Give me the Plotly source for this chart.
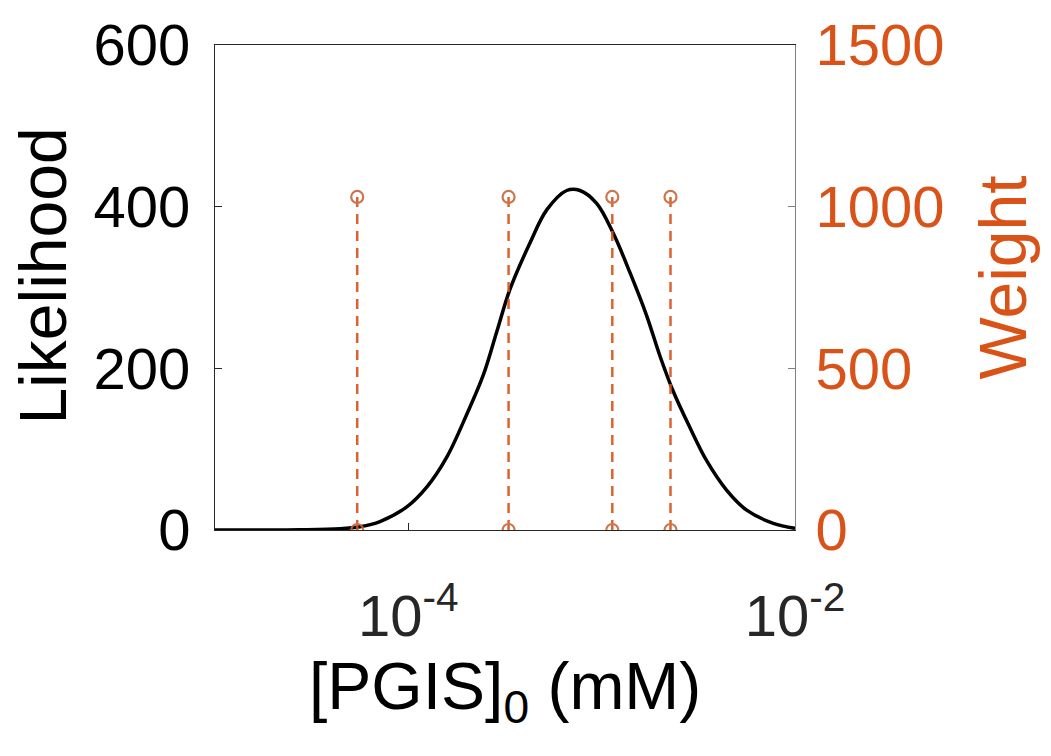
import plotly.graph_objects as go

# Likelihood curve for [PGIS]0 (mM), sampled along the log axis
conc = [1.00e-5, 2.75e-5, 4.44e-5, 5.62e-5, 7.13e-5, 9.82e-5, 1.245e-4, 1.578e-4,
        2.004e-4, 2.443e-4, 2.864e-4, 3.357e-4, 4.256e-4, 5.200e-4, 6.592e-4,
        7.727e-4, 9.419e-4, 1.148e-3, 1.403e-3, 1.710e-3, 2.004e-3, 2.350e-3,
        2.864e-3, 3.491e-3, 4.436e-3, 5.623e-3, 7.727e-3, 1.00e-2]
likelihood = [0.0, 0.3, 1.5, 4.0, 10.4, 28.6, 53.0, 89.8,
              142.9, 191.8, 244.9, 297.9, 355.0, 396.0, 420.0,
              420.0, 404.0, 367.0, 318.0, 265.0, 215.0, 171.0,
              126.5, 85.7, 49.0, 24.5, 8.2, 2.0]

# Sampled parameter values and their weights
sample_conc = [5.44e-5, 3.30e-4, 1.135e-3, 2.27e-3]
sample_weight = [1030, 1030, 1030, 1030]

# Axis ticks
x_tickvals = [1e-4, 1e-2]
x_ticktext = ["10<sup>-4</sup>", "10<sup>-2</sup>"]
y_tickvals = [0, 200, 400, 600]
y2_tickvals = [0, 500, 1000, 1500]

ORANGE = "#D95319"
FONT = "Liberation Sans, Arial, sans-serif"

fig = go.Figure()

fig.add_trace(go.Scatter(
    x=conc, y=likelihood, mode="lines",
    line=dict(color="black", width=3.5, shape="spline", smoothing=1.0),
    showlegend=False, hoverinfo="skip",
))

for xc, w in zip(sample_conc, sample_weight):
    fig.add_trace(go.Scatter(
        x=[xc, xc], y=[0, w], mode="lines+markers", yaxis="y2",
        line=dict(color=ORANGE, width=2.5, dash="10px,7px"),
        marker=dict(symbol="circle-open", size=12, color="#C8663A",
                    line=dict(width=2.2, color="#C8663A")),
        opacity=0.9,
        showlegend=False, hoverinfo="skip",
    ))

fig.update_layout(
    width=1051, height=756,
    margin=dict(l=215, r=256, t=40, b=226),
    paper_bgcolor="white", plot_bgcolor="white",
    font=dict(family=FONT, color="black"),
    xaxis=dict(
        type="log", range=[-5, -2],
        tickvals=x_tickvals, ticktext=x_ticktext,
        ticks="inside", ticklen=7, tickcolor="#262626",
        showline=True, linecolor="#262626", linewidth=1, mirror=True,
        showgrid=False, zeroline=False,
        tickfont=dict(size=58, color="#262626", family=FONT),
        ticklabelstandoff=35,
    ),
    yaxis=dict(
        range=[0, 600], tickvals=y_tickvals,
        ticks="inside", ticklen=7, tickcolor="#262626",
        showline=True, linecolor="#262626", linewidth=1,
        showgrid=False, zeroline=False,
        tickfont=dict(size=58, color="black", family=FONT),
        ticklabelstandoff=12,
    ),
    yaxis2=dict(
        overlaying="y", side="right",
        range=[0, 1500], tickvals=y2_tickvals,
        ticks="inside", ticklen=7, tickcolor="#808080",
        showline=True, linecolor="#808080", linewidth=1,
        showgrid=False, zeroline=False,
        tickfont=dict(size=58, color=ORANGE, family=FONT),
        ticklabelstandoff=8,
    ),
    annotations=[
        dict(text="Likelihood", xref="paper", yref="paper",
             x=(43 - 215) / 580, y=(530 - 274) / 490,
             xanchor="center", yanchor="middle", textangle=-90,
             showarrow=False, font=dict(size=66, color="black", family=FONT)),
        dict(text="Weight", xref="paper", yref="paper",
             x=(1003 - 215) / 580, y=(530 - 275) / 490,
             xanchor="center", yanchor="middle", textangle=-90,
             showarrow=False, font=dict(size=66, color=ORANGE, family=FONT)),
        dict(text="[PGIS]<sub>0</sub> (mM)",
             xref="paper", yref="paper",
             x=0.5, y=(530 - 693) / 490,
             xanchor="center", yanchor="middle",
             showarrow=False, font=dict(size=66, color="black", family=FONT)),
    ],
)

fig.write_html("out.html")
